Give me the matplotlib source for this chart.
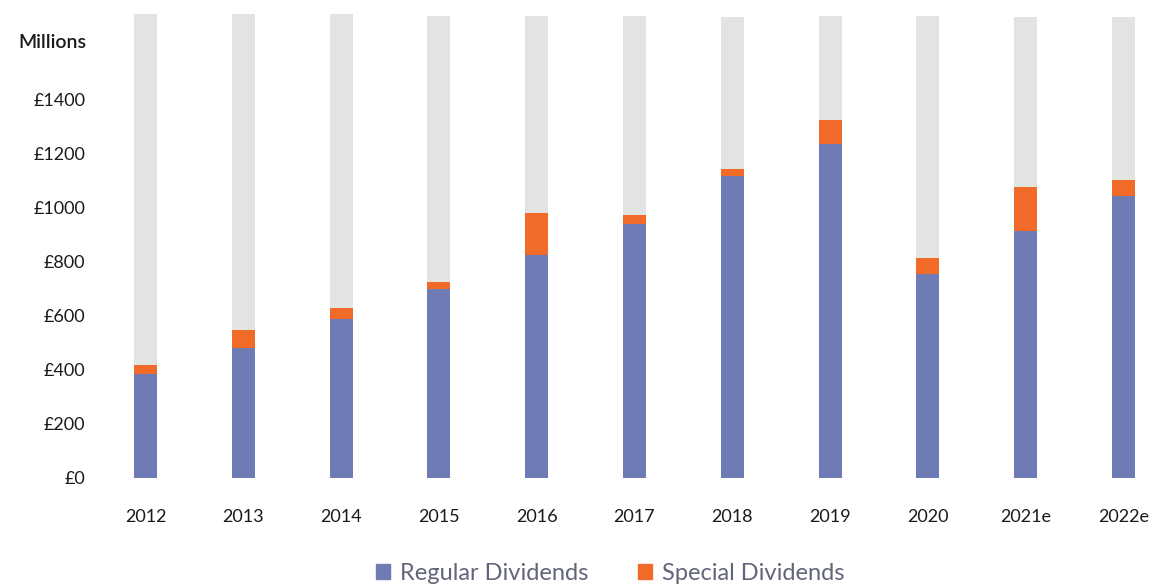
import matplotlib.pyplot as plt
from matplotlib.patches import Patch

years = ["2012", "2013", "2014", "2015", "2016", "2017", "2018", "2019", "2020", "2021e", "2022e"]
regular = [384, 481, 587, 697, 824, 940, 1117, 1236, 755, 913, 1043]
special = [34, 65, 41, 27, 155, 32, 25, 88, 58, 163, 58]
backdrop = [1715, 1715, 1715, 1708, 1708, 1708, 1705, 1708, 1708, 1705, 1705]
yticks = [0, 200, 400, 600, 800, 1000, 1200, 1400]

blue = "#6e7bb5"
orange = "#f26a28"
grey = "#e2e4e1"

plt.rcParams["font.family"] = ["Lato", "DejaVu Sans"]

fig = plt.figure(figsize=(11.56, 5.88), dpi=100)
ax = fig.add_axes([100 / 1156, 1 - 477.5 / 588, 1050 / 1156, 463.5 / 588])

x = list(range(len(years)))
w = 0.235
ax.bar(x, backdrop, width=w, color=grey, zorder=1)
ax.bar(x, regular, width=w, color=blue, zorder=2)
ax.bar(x, special, width=w, bottom=regular, color=orange, zorder=2)

ax.set_xlim((100 - 145.5) / 97.8, (1150 - 145.5) / 97.8)
ax.set_ylim(0, 1716)
ax.set_yticks(yticks)
ax.set_yticklabels(["£%d" % v for v in yticks])
ax.set_xticks(x)
ax.set_xticklabels(years)
ax.tick_params(axis="y", length=0, pad=10.5, labelsize=13, labelcolor="#1a1a1a")
ax.tick_params(axis="x", length=0, pad=23, labelsize=13, labelcolor="#1a1a1a")
for s in ax.spines.values():
    s.set_visible(False)

fig.text(86 / 1156, 1 - 43 / 588, "Millions", ha="right", va="center",
         fontsize=14, fontweight="semibold", color="#1a1a1a")

# legend sits at the very bottom, kept just inside the canvas
handles = [Patch(color=blue, label="Regular Dividends"),
           Patch(color=orange, label="Special Dividends")]
fig.legend(handles=handles, loc="center", bbox_to_anchor=(610 / 1156, 1 - 573 / 588),
           ncol=2, frameon=False, handlelength=0.62, handleheight=0.62,
           handletextpad=0.4, columnspacing=2.1, borderpad=0,
           labelcolor="#62647a", prop={"weight": "normal", "size": 17})

fig.savefig("out.png", dpi=100)
